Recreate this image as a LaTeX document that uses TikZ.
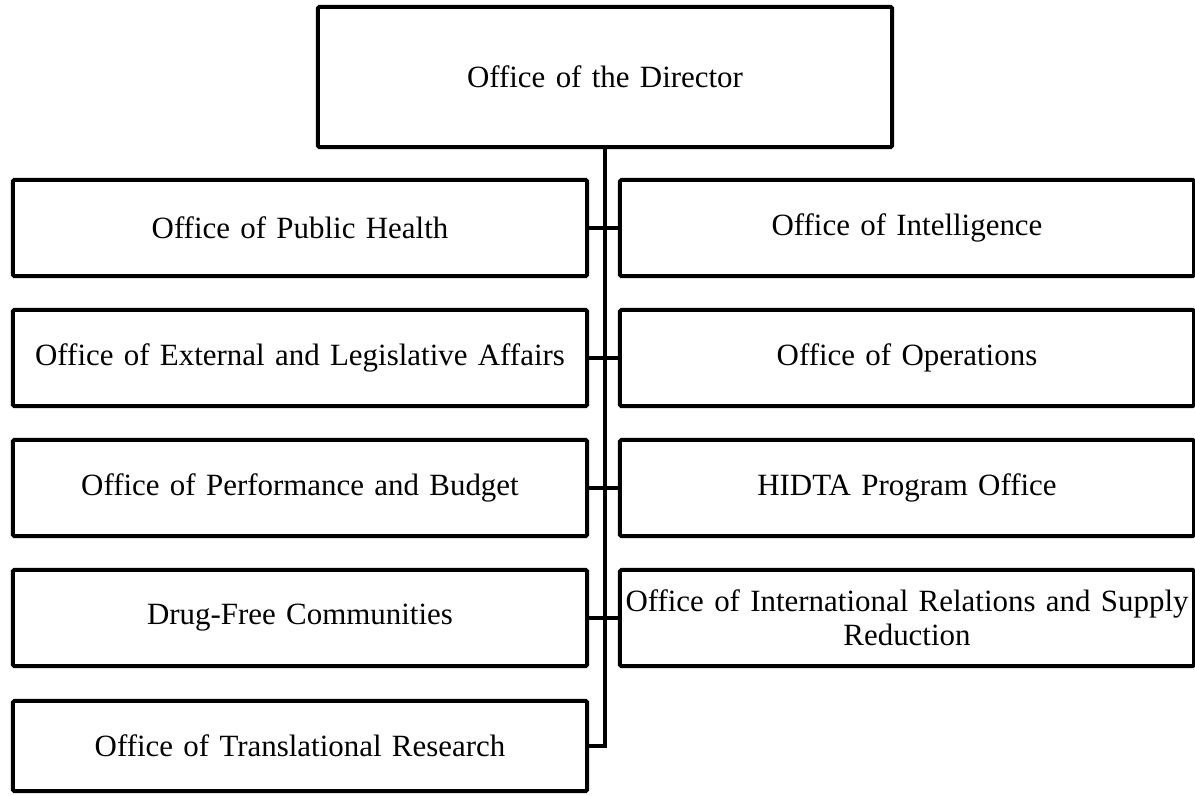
\documentclass[tikz,border=0pt]{standalone}
\usepackage{fontspec}
\setmainfont{Liberation Serif}
\usepackage{tikz}
\usetikzlibrary{calc}
\tikzset{
	office/.style={draw, line width=0.1cm, rounded corners=1pt, align=center, inner sep=0pt, minimum width=14.35cm, text width=14.3cm, minimum height=2.4cm, font=\fontsize{22}{24}\selectfont},
	director/.style={office, minimum width=14.35cm, minimum height=3.5cm},
	link/.style={line width=0.1cm},
}

\begin{document}
\begin{tikzpicture}[x=0.025cm,y=-0.025cm]
		\useasboundingbox (0,0) rectangle (1195,795);
		\node[director] (dir) at (605,77) {Office of the Director};
		\node[office] (pub) at (300,228) {Office of Public Health};
		\node[office] (ext) at (300,358) {Office of External and Legislative Affairs};
		\node[office] (perf) at (300,488) {Office of Performance and Budget};
		\node[office] (dfc) at (300,618) {Drug-Free Communities};
		\node[office, minimum height=2.25cm] (trs) at (300,746) {Office of Translational Research};
		\node[office] (intel) at (907,228) {Office of Intelligence};
		\node[office] (ops) at (907,358) {Office of Operations};
		\node[office] (hidta) at (907,488) {HIDTA Program Office};
		\node[office] (intl) at (907,618) {Office of International Relations and Supply\\Reduction};
		\coordinate (end) at (dir.south |- trs.east);
		\draw[link] (dir.south) -- (end) -- (trs.east);
		\draw[link] (pub.east) -- (intel.west);
		\draw[link] (ext.east) -- (ops.west);
		\draw[link] (perf.east) -- (hidta.west);
		\draw[link] (dfc.east) -- (intl.west);
	\end{tikzpicture}
\end{document}
